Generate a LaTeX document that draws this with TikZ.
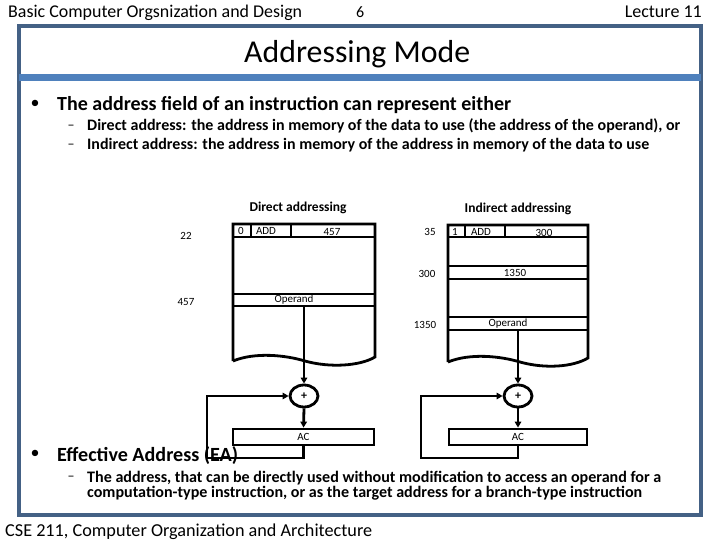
\documentclass[tikz,border=0pt]{standalone}
\usepackage{fontspec}
\setmainfont{Carlito}
\usepackage{graphicx}
\usetikzlibrary{arrows.meta,shapes.geometric}
\definecolor{framec}{RGB}{68,97,133}
\definecolor{bandc}{RGB}{79,129,189}
\newcommand\fw[2]{\resizebox{#1pt}{!}{#2}}
\begin{document}
\begin{tikzpicture}[x=1pt,y=-1pt,
  txt/.style={inner sep=0pt, anchor=base west},
  mem/.style={draw=black, line width=2.8pt, line join=miter},
  rowline/.style={draw=black, line width=2.8pt},
  conn/.style={draw=black, line width=2.8pt, -{Triangle[length=6pt,width=6.5pt]}},
  cell/.style={inner sep=0pt, font=\fontsize{11}{12}\selectfont},
  side/.style={inner sep=0pt, font=\fontsize{11}{12}\selectfont},
  head/.style={inner sep=0pt, font=\bfseries\fontsize{13.5}{15}\selectfont},
  plus/.style={draw=black, ellipse, line width=2.8pt, minimum width=28pt, minimum height=22pt, inner sep=0pt, font=\bfseries\fontsize{12}{12}\selectfont},
  acbox/.style={draw=black, line width=2.8pt, inner sep=0pt, minimum height=16pt, font=\fontsize{11}{12}\selectfont}]
\useasboundingbox (0,0) rectangle (720,540);
% header
\node[txt] (hdr) at (8,18) {\fw{294}{Basic Computer Orgsnization and Design}};
\node[txt] (pg) at (356,18) {\fontsize{16}{18}\selectfont 6};
\node[inner sep=0pt, anchor=base east] (lec) at (702,18) {\fw{77}{Lecture 11}};
% frame
\draw[framec, line width=3.5pt] (19,26) rectangle (701,515);
\fill[bandc] (19,74) rectangle (701,81);
\node[txt] (title) at (244,63) {\fw{226}{Addressing Mode}};
% bullets
\node[inner sep=0pt] (b1) at (35,104) {\fontsize{18}{20}\selectfont\textbullet};
\node[txt] (t1) at (57,111) {\fw{454}{\bfseries The address field of an instruction can represent either}};
\node[inner sep=0pt] (d1) at (71,127) {\fontsize{14}{15}\selectfont\textendash};
\node[txt] (t2) at (87,131) {\fw{593}{\bfseries Direct address: the address in memory of the data to use (the address of the operand), or}};
\node[inner sep=0pt] (d2) at (71,146) {\fontsize{14}{15}\selectfont\textendash};
\node[txt] (t3) at (87,150) {\fw{562}{\bfseries Indirect address: the address in memory of the address in memory of the data to use}};
% ---------------- direct addressing
\node[head] (dh) at (298,208) {Direct addressing};
\draw[mem] (233,361) -- (233,224) -- (375,224) -- (375,357)
  .. controls (360,366) and (330,368) .. (305,361)
  .. controls (285,355) and (255,352) .. (233,361);
\draw[rowline] (233,237) -- (375,237);
\draw[rowline] (251,224) -- (251,237);
\draw[rowline] (291,224) -- (291,237);
\draw[rowline] (233,294) -- (375,294);
\draw[rowline] (233,306) -- (375,306);
\node[cell] (d0) at (241,231) {0};
\node[cell] (dadd) at (266,231) {ADD};
\node[cell] (d457) at (332,232) {457};
\node[cell] (dop) at (294,300) {Operand};
\node[side] (a22) at (186,236) {22};
\node[side] (a457) at (186,302) {457};
\coordinate (dopb) at (304,306);
\node[plus] (dplus) at (304,396) {+};
\node[acbox, minimum width=141pt] (dac) at (303.5,437) {AC};
\coordinate (dl) at (207,458);
\draw[conn] (dopb) -- (dplus.north);
\draw[conn] (dplus.south) -- (dac.north);
\draw[conn] (dac.south) |- (dl) |- (dplus.west);
% ---------------- indirect addressing
\node[head] (ih) at (518,209) {Indirect addressing};
\draw[mem] (448,362) -- (448,225) -- (588,225) -- (588,358)
  .. controls (573,367) and (545,369) .. (520,362)
  .. controls (500,356) and (470,353) .. (448,362);
\draw[rowline] (448,237) -- (588,237);
\draw[rowline] (465,225) -- (465,237);
\draw[rowline] (505,225) -- (505,237);
\draw[rowline] (448,266) -- (588,266);
\draw[rowline] (448,279) -- (588,279);
\draw[rowline] (448,317) -- (588,317);
\draw[rowline] (448,330) -- (588,330);
\node[cell] (i1) at (455,232) {1};
\node[cell] (iadd) at (481,232) {ADD};
\node[cell] (i300) at (544,233) {300};
\node[cell] (i1350) at (515,273) {1350};
\node[cell] (iop) at (508,324) {Operand};
\node[side] (a35) at (430,232) {35};
\node[side] (a300) at (427,274) {300};
\node[side] (a1350) at (425,325) {1350};
\coordinate (iopb) at (518,330);
\node[plus] (iplus) at (518,396) {+};
\node[acbox, minimum width=138pt] (iac) at (518,437) {AC};
\coordinate (il) at (421,458);
\draw[conn] (iopb) -- (iplus.north);
\draw[conn] (iplus.south) -- (iac.north);
\draw[conn] (iac.south) |- (il) |- (iplus.west);
% ---------------- bottom bullets
\node[inner sep=0pt] (b2) at (35,454) {\fontsize{18}{20}\selectfont\textbullet};
\node[txt] (t4) at (57,461) {\fw{181}{\bfseries Effective Address (EA)}};
\node[inner sep=0pt] (d3) at (71,478) {\fontsize{14}{15}\selectfont\textendash};
\node[txt] (t5) at (87,482) {\fw{574}{\bfseries The address, that can be directly used without modification to access an operand for a}};
\node[txt] (t6) at (87,497) {\fw{555}{\bfseries computation-type instruction, or as the target address for a branch-type instruction}};
% footer
\node[txt] (ft) at (5,536) {\fw{367}{CSE 211, Computer Organization and Architecture}};
\end{tikzpicture}
\end{document}
